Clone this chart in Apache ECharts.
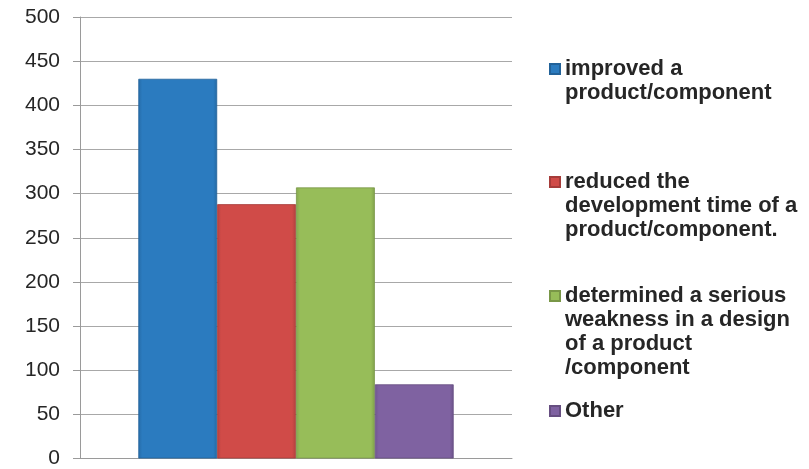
<!DOCTYPE html>
<html>
<head>
<meta charset="utf-8">
<script src="https://cdn.jsdelivr.net/npm/echarts@6/dist/echarts.min.js"></script>
<style>
  html, body { margin: 0; padding: 0; background: #fff; }
  #chart { width: 809px; height: 469px; }
</style>
</head>
<body>
<div id="chart"></div>
<script>
// data
const seriesNames = [
  "improved a\nproduct/component",
  "reduced the\ndevelopment time of a\nproduct/component.",
  "determined a serious\nweakness in a design\nof a product\n/component",
  "Other"
];
const seriesValues = [430, 288, 307, 84];
const barColors = ["#2b7bbf", "#d04b48", "#97bd59", "#7f62a1"];

// top of the first text line of each legend entry (Excel spaces them unevenly)
const legendLineTops = [57, 170, 284, 399];
const LINE_H = 24;

const chartDom = document.getElementById("chart");
const myChart = echarts.init(chartDom);

function darken(c, k) {
  const a = echarts.color.parse(c);
  return "rgb(" + [0, 1, 2].map(i => Math.round(a[i] * (1 - k))).join(",") + ")";
}

function bevel(c) {
  return new echarts.graphic.LinearGradient(0, 0, 1, 0, [
    { offset: 0, color: darken(c, 0.12) },
    { offset: 0.05, color: c },
    { offset: 0.95, color: c },
    { offset: 1, color: darken(c, 0.15) }
  ]);
}

const option = {
  animation: false,
  grid: { left: 80, right: 297, top: 17, bottom: 9 },
  legend: seriesNames.map((name, i) => {
    const extra = name.split("\n").length - 1;
    // blank lines above so the icon (centred on the block) sits by the first line
    return {
      data: [{ name: name, icon: "rect" }],
      orient: "vertical",
      left: 549,
      top: legendLineTops[i] - LINE_H * extra,
      padding: 0,
      itemWidth: 10,
      itemHeight: 10,
      itemGap: 0,
      formatter: n => "\n".repeat(extra) + n,
      textStyle: {
        fontFamily: "Liberation Sans",
        fontSize: 22,
        fontWeight: "bold",
        color: "#262626",
        lineHeight: LINE_H
      }
    };
  }),
  xAxis: {
    type: "category",
    data: [""],
    axisLine: { show: true, lineStyle: { color: "#9a9a9a" } },
    axisTick: { show: false },
    axisLabel: { show: false }
  },
  yAxis: {
    type: "value",
    min: 0,
    max: 500,
    interval: 50,
    axisLine: { show: true, lineStyle: { color: "#9a9a9a", width: 1 } },
    axisTick: { show: true, length: 7, lineStyle: { color: "#9a9a9a" } },
    splitLine: { lineStyle: { color: "#a8a8a8" } },
    axisLabel: {
      margin: 20,
      fontFamily: "Liberation Sans",
      fontSize: 21,
      color: "#262626"
    }
  },
  series: seriesNames.map((name, i) => ({
    name: name,
    type: "bar",
    data: [seriesValues[i]],
    barGap: "0%",
    barCategoryGap: "27%",
    itemStyle: {
      color: bevel(barColors[i]),
      borderColor: darken(barColors[i], 0.2),
      borderWidth: 0.8
    }
  }))
};
myChart.setOption(option);
</script>
</body>
</html>
